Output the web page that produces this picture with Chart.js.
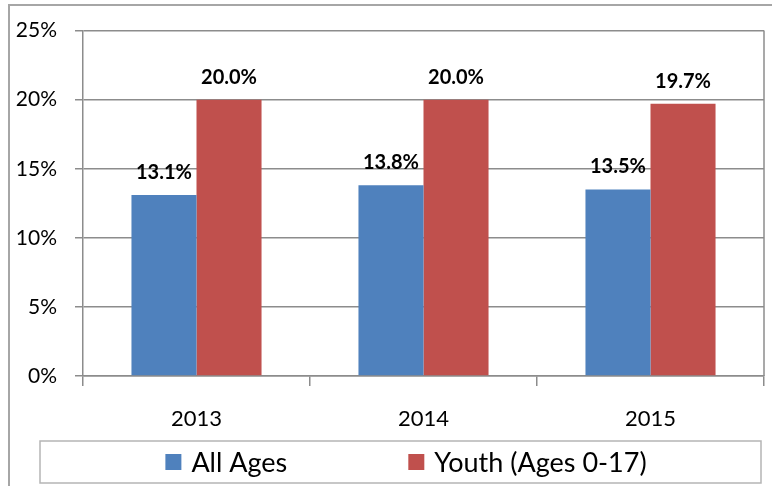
<!DOCTYPE html>
<html>
<head>
<meta charset="utf-8">
<script src="https://cdn.jsdelivr.net/npm/chart.js@4.4.1/dist/chart.umd.min.js"></script>
<style>
html,body{margin:0;padding:0;background:#fff;}
#wrap{width:772px;height:486px;position:relative;}
</style>
</head>
<body>
<div id="wrap"><canvas id="c" width="772" height="486"></canvas></div>
<script>
const categories = ['2013', '2014', '2015'];
const allAges = [13.1, 13.8, 13.5];
const youth = [20.0, 20.0, 19.7];
const seriesNames = ['All Ages', 'Youth (Ages 0-17)'];
const seriesColors = ['#4F81BD', '#C0504D'];
const yTicks = [0, 5, 10, 15, 20, 25];

const FONT = 'Lato, "Open Sans", sans-serif';
const GRID = '#8c8c8c';

const decor = {
  id: 'decor',
  beforeDraw(chart) {
    const ctx = chart.ctx;
    ctx.save();
    ctx.fillStyle = '#fff';
    ctx.fillRect(0, 0, chart.width, chart.height);
    ctx.strokeStyle = '#a6a6a6';
    ctx.lineWidth = 2;
    ctx.strokeRect(9, 5, chart.width + 10, chart.height + 10);
    ctx.restore();
  },
  afterDraw(chart) {
    const ctx = chart.ctx;
    const a = chart.chartArea;
    ctx.save();
    // right plot border
    ctx.strokeStyle = GRID;
    ctx.lineWidth = 1.5;
    ctx.beginPath();
    ctx.moveTo(a.right, a.top);
    ctx.lineTo(a.right, a.bottom);
    ctx.stroke();
    // legend box
    const bx = 40, by = 441, bw = 721, bh = 42;
    ctx.strokeStyle = '#b5b5b5';
    ctx.lineWidth = 1.5;
    ctx.strokeRect(bx, by, bw, bh);
    // legend items
    ctx.font = '27px ' + FONT;
    ctx.textBaseline = 'middle';
    const sq = 16, gapIn = 10, gapOut = 121;
    const widths = chart.data.datasets.map(d => sq + gapIn + ctx.measureText(d.label).width);
    const total = widths.reduce((s, w) => s + w, 0) + gapOut * (widths.length - 1);
    let x = 406 - total / 2;
    const cy = by + bh / 2;
    chart.data.datasets.forEach((d, i) => {
      ctx.fillStyle = d.backgroundColor;
      ctx.fillRect(x, cy - sq / 2, sq, sq);
      ctx.fillStyle = '#000';
      ctx.textAlign = 'left';
      ctx.fillText(d.label, x + sq + gapIn, cy + 1);
      x += widths[i] + gapOut;
    });
    ctx.restore();
  },
  afterDatasetsDraw(chart) {
    const ctx = chart.ctx;
    ctx.save();
    ctx.font = 'bold 20px ' + FONT;
    ctx.fillStyle = '#000';
    ctx.textAlign = 'center';
    ctx.textBaseline = 'alphabetic';
    chart.data.datasets.forEach((d, di) => {
      const meta = chart.getDatasetMeta(di);
      meta.data.forEach((el, i) => {
        ctx.fillText(d.data[i].toFixed(1) + '%', el.x, el.y - 16);
      });
    });
    ctx.restore();
  }
};

new Chart(document.getElementById('c'), {
  type: 'bar',
  data: {
    labels: categories,
    datasets: [
      { label: seriesNames[0], data: allAges, backgroundColor: seriesColors[0] },
      { label: seriesNames[1], data: youth, backgroundColor: seriesColors[1] }
    ]
  },
  options: {
    responsive: false,
    animation: false,
    devicePixelRatio: 1,
    layout: { padding: { left: 0, right: 8, top: 29, bottom: 45 } },
    datasets: { bar: { categoryPercentage: 0.573, barPercentage: 1.0 } },
    plugins: { legend: { display: false }, tooltip: { enabled: false } },
    scales: {
      x: {
        offset: true,
        grid: { offset: true, drawOnChartArea: false, drawTicks: true, tickLength: 10, color: GRID, lineWidth: 1.5 },
        border: { display: true, color: GRID, width: 1.5 },
        ticks: { color: '#000', font: { family: FONT, size: 22 }, padding: 20 },
        afterFit(scale) { scale.height = 65; }
      },
      y: {
        min: 0, max: 25,
        afterBuildTicks(scale) { scale.ticks = yTicks.map(v => ({ value: v })); },
        grid: { color: GRID, lineWidth: 1.5, tickLength: 8 },
        border: { display: true, color: GRID, width: 1.5 },
        ticks: { color: '#000', font: { family: FONT, size: 21 }, padding: 18, callback: v => v + '%' },
        afterFit(scale) { scale.width = 83; }
      }
    }
  },
  plugins: [decor]
});
</script>
</body>
</html>
